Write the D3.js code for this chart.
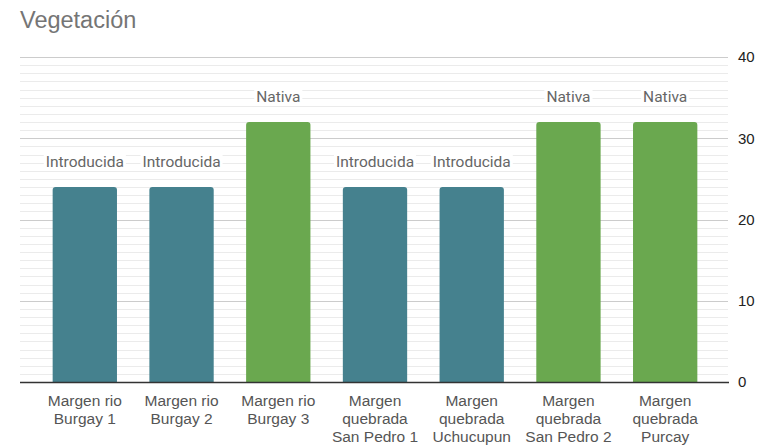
<!DOCTYPE html>
<html>
<head>
<meta charset="utf-8">
<script src="https://cdn.jsdelivr.net/npm/d3@7"></script>
<style>
  html, body { margin: 0; padding: 0; background: #fff; }
  svg { display: block; }
</style>
</head>
<body>
<svg id="chart" width="760" height="447"></svg>
<script>
// Sites along the streams, with the vegetation found at each one
const categories = [
  ["Margen rio", "Burgay 1"],
  ["Margen rio", "Burgay 2"],
  ["Margen rio", "Burgay 3"],
  ["Margen", "quebrada", "San Pedro 1"],
  ["Margen", "quebrada", "Uchucupun"],
  ["Margen", "quebrada", "San Pedro 2"],
  ["Margen", "quebrada", "Purcay"]
];
const values = [24, 24, 32, 24, 24, 32, 32];
const vegetation = ["Introducida", "Introducida", "Nativa", "Introducida", "Introducida", "Nativa", "Nativa"];
const yTicks = [0, 10, 20, 30, 40];
const colors = { "Introducida": "#45818e", "Nativa": "#6aa84f" };

const svg = d3.select("#chart");
const plot = { left: 20, right: 728, top: 57, bottom: 382 };

const x = d3.scaleBand()
  .domain(d3.range(categories.length))
  .range([36.5, 713.5])
  .paddingInner(0.335)
  .paddingOuter(0.167);

const y = d3.scaleLinear().domain([0, 40]).range([plot.bottom, plot.top]);

// Title
svg.append("text")
  .attr("x", 20).attr("y", 28)
  .attr("font-family", "Liberation Sans, Arial, sans-serif")
  .attr("font-size", 23.5)
  .attr("fill", "#757575")
  .text("Vegetación");

// Minor gridlines (one per unit)
svg.append("g").selectAll("line")
  .data(d3.range(1, 40).filter(v => v % 10 !== 0))
  .join("line")
  .attr("x1", plot.left).attr("x2", plot.right)
  .attr("y1", d => Math.round(y(d)) + 0.5).attr("y2", d => Math.round(y(d)) + 0.5)
  .attr("stroke", "#ebebeb").attr("stroke-width", 1);

// Major gridlines
svg.append("g").selectAll("line")
  .data(yTicks.filter(v => v > 0))
  .join("line")
  .attr("x1", plot.left).attr("x2", plot.right)
  .attr("y1", d => Math.round(y(d)) + 0.5).attr("y2", d => Math.round(y(d)) + 0.5)
  .attr("stroke", "#cccccc").attr("stroke-width", 1);

// Right-hand value axis
const yAxis = d3.axisRight(y).tickValues(yTicks).tickSize(0).tickPadding(10);
const yg = svg.append("g").attr("transform", `translate(${plot.right},0)`).call(yAxis);
yg.select(".domain").remove();
yg.selectAll("text")
  .attr("font-family", "Liberation Sans, Arial, sans-serif")
  .attr("font-size", 15)
  .attr("fill", "#222");

// Value labels on white backgrounds so gridlines are masked behind them
const labelFont = "Roboto, Liberation Sans, Arial, sans-serif";
const labels = svg.append("g");
const labelGroups = labels.selectAll("g")
  .data(values.map((v, i) => ({ v, i, t: vegetation[i] })))
  .join("g")
  .attr("transform", d => `translate(${x(d.i) + x.bandwidth() / 2},${y(d.v) - 20})`);
labelGroups.append("text")
  .attr("text-anchor", "middle")
  .attr("font-family", labelFont)
  .attr("font-size", 15.5)
  .attr("fill", "#666")
  .text(d => d.t);
labelGroups.each(function () {
  const g = d3.select(this);
  const bb = g.select("text").node().getBBox();
  g.insert("rect", "text")
    .attr("x", bb.x - 2).attr("y", bb.y + 1)
    .attr("width", bb.width + 4).attr("height", bb.height - 2)
    .attr("fill", "#fff");
});

// Bars with slightly rounded tops
const r = 3;
svg.append("g").selectAll("path")
  .data(values.map((v, i) => ({ v, i })))
  .join("path")
  .attr("fill", d => colors[vegetation[d.i]])
  .attr("d", d => {
    const x0 = x(d.i), x1 = x0 + x.bandwidth();
    const y0 = y(d.v), y1 = y(0);
    return `M${x0},${y1}V${y0 + r}Q${x0},${y0} ${x0 + r},${y0}H${x1 - r}Q${x1},${y0} ${x1},${y0 + r}V${y1}Z`;
  });

// Baseline
svg.append("line")
  .attr("x1", plot.left).attr("x2", plot.right + 1)
  .attr("y1", y(0) + 0.5).attr("y2", y(0) + 0.5)
  .attr("stroke", "#333").attr("stroke-width", 1.5);

// Category labels
const xl = svg.append("g").selectAll("text")
  .data(categories.map((c, i) => ({ c, i })))
  .join("text")
  .attr("text-anchor", "middle")
  .attr("font-family", "Liberation Sans, Arial, sans-serif")
  .attr("font-size", 15.5)
  .attr("fill", "#555")
  .attr("x", d => x(d.i) + x.bandwidth() / 2)
  .attr("y", 405.5);
xl.selectAll("tspan")
  .data(d => d.c.map(s => ({ s, x: x(d.i) + x.bandwidth() / 2 })))
  .join("tspan")
  .attr("x", d => d.x)
  .attr("dy", (d, j) => j === 0 ? 0 : 18.3)
  .text(d => d.s);
</script>
</body>
</html>
